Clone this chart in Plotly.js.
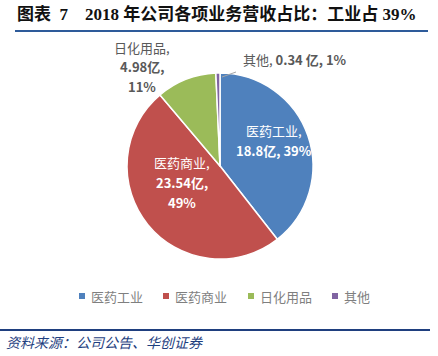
<!DOCTYPE html>
<html><head><meta charset="utf-8">
<script src="https://cdn.plot.ly/plotly-3.0.1.min.js"></script>
<style>html,body{margin:0;padding:0;background:#fff}#c{width:438px;height:356px}</style>
</head><body><div id="c"></div>
<script>
const categories = ["医药工业", "医药商业", "日化用品", "其他"];
const revenue = [18.8, 23.54, 4.98, 0.34];
const revenueLabels = ["18.8亿", "23.54亿", "4.98亿", "0.34 亿"];
const shareLabels = ["39%", "49%", "11%", "1%"];
const colors = ["#4F81BD", "#C0504D", "#9BBB59", "#8064A2"];

const font = "Noto Sans CJK SC, Noto Sans, sans-serif";
const W = 438, H = 356;
const cx = 220, cy = 166, r = 93;
const px = x => x / W, py = y => 1 - y / H;

// label lines per slice
const labelLines = [
  [categories[0] + ",", "<b>" + revenueLabels[0] + ", " + shareLabels[0] + "</b>"],
  [categories[1] + ",", "<b>" + revenueLabels[1] + ",</b>", "<b>" + shareLabels[1] + "</b>"],
  [categories[2] + ",", "<b>" + revenueLabels[2] + ",</b>", "<b>" + shareLabels[2] + "</b>"],
  [categories[3] + ", <b>" + revenueLabels[3] + ", " + shareLabels[3] + "</b>"]
];
const labelPos = [[274, 131], [182, 163], [142, 47], [295, 60]];
const labelColor = ["#ffffff", "#ffffff", "#595959", "#595959"];
const lineGap = 19.5;

const annotations = [];
labelLines.forEach((lines, i) => lines.forEach((t, j) => annotations.push({
  text: t, xref: "paper", yref: "paper", x: px(labelPos[i][0]), y: py(labelPos[i][1] + j * lineGap),
  xanchor: "center", yanchor: "middle", showarrow: false, align: "center",
  font: {family: font, size: 13, color: labelColor[i]}
})));

annotations.push({
  text: "<b>图表&nbsp;&nbsp;7&nbsp;&nbsp;&nbsp;&nbsp;2018 年公司各项业务营收占比：工业占 39%</b>",
  xref: "paper", yref: "paper", x: px(15), y: py(14), xanchor: "left", yanchor: "middle",
  showarrow: false, font: {family: "Liberation Serif, Noto Sans CJK SC, serif", size: 17, color: "#111"}
});
annotations.push({
  text: "<i>资料来源：公司公告、华创证券</i>",
  xref: "paper", yref: "paper", x: px(4), y: py(342), xanchor: "left", yanchor: "middle",
  showarrow: false, font: {family: font, size: 14, color: "#1F3F7F"}
});

// custom legend
const legendMarkX = [82, 166, 251, 335];
const legendY = 296;
const shapes = [
  {type: "line", xref: "paper", yref: "paper", x0: px(15), x1: px(428), y0: py(31), y1: py(31), line: {color: "#2E5B9A", width: 2}},
  {type: "line", xref: "paper", yref: "paper", x0: px(0), x1: px(430), y0: py(330), y1: py(330), line: {color: "#1F3F7F", width: 2}},
  {type: "line", xref: "paper", yref: "paper", x0: px(222), x1: px(236), y0: py(77), y1: py(72), line: {color: "#A6A6A6", width: 1}}
];
categories.forEach((c, i) => {
  shapes.push({type: "rect", xref: "paper", yref: "paper",
    x0: px(legendMarkX[i] - 3), x1: px(legendMarkX[i] + 3), y0: py(legendY + 3), y1: py(legendY - 3),
    fillcolor: colors[i], line: {width: 0}});
  annotations.push({text: c, xref: "paper", yref: "paper", x: px(legendMarkX[i] + 7), y: py(legendY),
    xanchor: "left", yanchor: "middle", showarrow: false,
    font: {family: font, size: 13, color: "#7F7F7F"}});
});

const data = [{
  type: "pie", labels: categories, values: revenue, sort: false, direction: "clockwise",
  rotation: 0, textinfo: "none", hoverinfo: "none",
  marker: {colors: colors, line: {color: "#ffffff", width: 1.5}},
  domain: {x: [px(cx - r), px(cx + r)], y: [py(cy + r), py(cy - r)]}
}];

const layout = {
  width: W, height: H, margin: {l: 0, r: 0, t: 0, b: 0},
  paper_bgcolor: "#fff", plot_bgcolor: "#fff",
  showlegend: false,
  annotations: annotations,
  shapes: shapes
};

Plotly.newPlot("c", data, layout, {staticPlot: true});
</script></body></html>
